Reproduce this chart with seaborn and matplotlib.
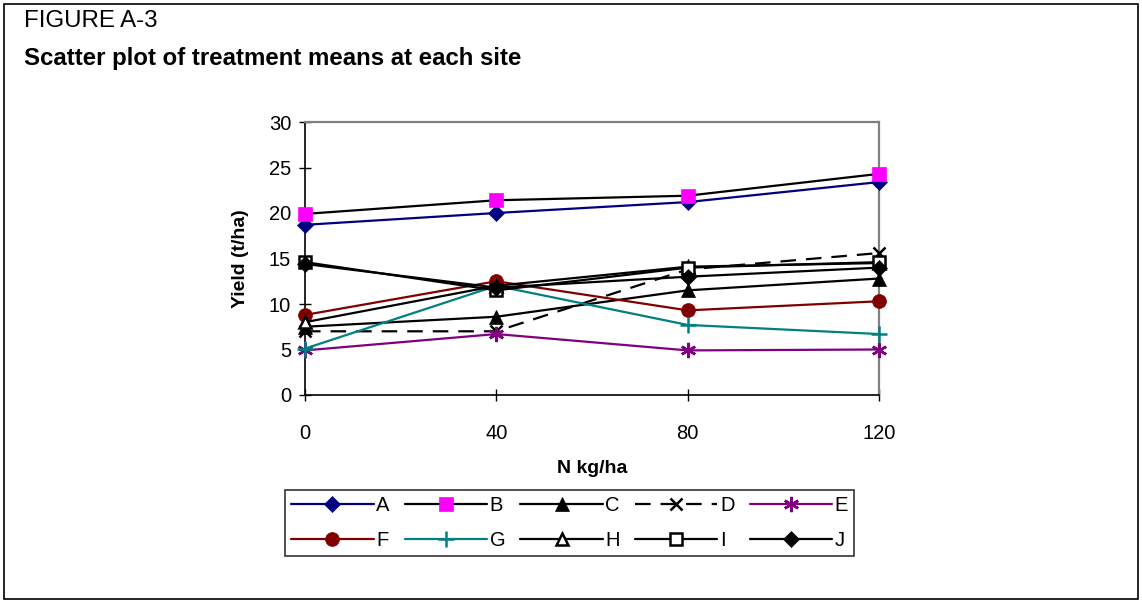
import matplotlib
matplotlib.use("Agg")
import matplotlib.pyplot as plt
from matplotlib.patches import Rectangle
import seaborn as sns
import pandas as pd

# Nitrogen rates (kg/ha)
n_rates = [0, 40, 80, 120]

# Treatment mean yields (t/ha) for each site
site_a = [18.7, 20.0, 21.2, 23.4]
site_b = [19.9, 21.4, 21.9, 24.3]
site_c = [7.5, 8.6, 11.5, 12.8]
site_d = [7.0, 7.0, 13.8, 15.6]
site_e = [4.9, 6.7, 4.9, 5.0]
site_f = [8.8, 12.5, 9.3, 10.3]
site_g = [5.1, 12.0, 7.7, 6.7]
site_h = [8.0, 12.0, 14.1, 14.5]
site_i = [14.6, 11.5, 14.0, 14.6]
site_j = [14.4, 11.8, 13.0, 14.0]

site_names = ["A", "B", "C", "D", "E", "F", "G", "H", "I", "J"]
site_values = [site_a, site_b, site_c, site_d, site_e,
               site_f, site_g, site_h, site_i, site_j]

# Line and marker styling per site
styles = {
    "A": dict(color="#000080", marker="D", mfc="#000080", mec="#000080", ms=8, ls="-"),
    "B": dict(color="black", marker="s", mfc="#FF00FF", mec="#FF00FF", ms=10, ls="-"),
    "C": dict(color="black", marker="^", mfc="black", mec="black", ms=10, ls="-"),
    "D": dict(color="black", marker="x", mfc="black", mec="black", ms=9, ls=(0, (7, 4.5))),
    "E": dict(color="#800080", marker=(6, 2, 0), mfc="#800080", mec="#800080", ms=11, ls="-"),
    "F": dict(color="#800000", marker="o", mfc="#800000", mec="#800000", ms=10, ls="-"),
    "G": dict(color="#008080", marker="+", mfc="#008080", mec="#008080", ms=11, ls="-"),
    "H": dict(color="black", marker="^", mfc="white", mec="black", ms=8, ls="-"),
    "I": dict(color="black", marker="s", mfc="white", mec="black", ms=8, ls="-"),
    "J": dict(color="black", marker="D", mfc="black", mec="black", ms=8, ls="-"),
}

df = pd.DataFrame(
    [(name, n, y) for name, vals in zip(site_names, site_values)
     for n, y in zip(n_rates, vals)],
    columns=["site", "n_rate", "yield"],
)

sns.set_theme(style="white")
plt.rcParams["font.family"] = ["Liberation Sans", "DejaVu Sans"]
plt.rcParams["text.color"] = "black"
plt.rcParams["axes.labelcolor"] = "black"
plt.rcParams["xtick.color"] = "black"
plt.rcParams["ytick.color"] = "black"

fig = plt.figure(figsize=(11.42, 6.03), dpi=100)
ax = fig.add_axes([305 / 1142, 1 - 395 / 603, 574 / 1142, 273 / 603])

for name in site_names:
    st = styles[name]
    sub = df[df["site"] == name]
    sns.lineplot(
        data=sub, x="n_rate", y="yield", ax=ax,
        color=st["color"], linestyle=st["ls"], linewidth=1.6,
        marker=st["marker"], markersize=st["ms"],
        markerfacecolor=st["mfc"], markeredgecolor=st["mec"],
        markeredgewidth=1.8 if st["mfc"] == "white" or st["marker"] in ("x", "+", (6, 2, 0)) else 0.5,
        label=name, legend=False, clip_on=False, zorder=3,
    )

ax.set_xlim(0, 120)
ax.set_ylim(0, 30)
ax.set_xticks(n_rates)
ax.set_yticks(range(0, 31, 5))
ax.tick_params(axis="both", which="major", direction="inout", length=8, width=1,
               color="black", labelsize=14.5, pad=6, left=True, bottom=True)
ax.tick_params(axis="x", pad=17)
ax.set_xlabel("N kg/ha", fontsize=14, fontweight="bold", labelpad=12)
ax.set_ylabel("Yield (t/ha)", fontsize=14, fontweight="bold", labelpad=14)

for side in ("left", "bottom"):
    ax.spines[side].set_color("black")
    ax.spines[side].set_linewidth(1.2)
for side in ("top", "right"):
    ax.spines[side].set_color("#808080")
    ax.spines[side].set_linewidth(1.6)

# Legend laid out row by row: A-E on top, F-J below
handles, labels = ax.get_legend_handles_labels()
order = [0, 5, 1, 6, 2, 7, 3, 8, 4, 9]
leg = fig.legend(
    [handles[i] for i in order], [labels[i] for i in order],
    ncol=5, loc="center",
    bbox_to_anchor=(569.5 / 1142, 1 - 523 / 603),
    fontsize=14.5, handlelength=4.1, handletextpad=0.12, columnspacing=0.75,
    labelspacing=0.78, frameon=True, fancybox=False, borderpad=0.32,
    borderaxespad=0.2, edgecolor="black",
)
leg.get_frame().set_linewidth(1.2)

fig.text(24 / 1142, 1 - 21 / 603, "FIGURE A-3", fontsize=17.3, va="center", ha="left")
fig.text(24 / 1142, 1 - 58 / 603, "Scatter plot of treatment means at each site",
         fontsize=17.3, fontweight="bold", va="center", ha="left")

fig.patches.append(Rectangle((4 / 1142, 4 / 603), 1134 / 1142, 595 / 603,
                             transform=fig.transFigure, fill=False,
                             edgecolor="black", linewidth=1.2))

fig.savefig("out.png", dpi=100)
